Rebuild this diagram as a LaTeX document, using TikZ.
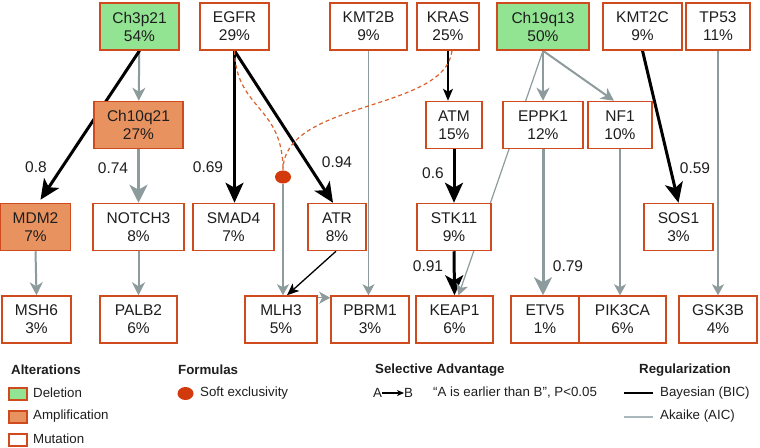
\documentclass[tikz,border=0pt]{standalone}
\usepackage{fontspec}
\setmainfont{Liberation Sans}
\usetikzlibrary{arrows.meta,shapes.geometric}
\definecolor{bord}{HTML}{CF4A1D}
\definecolor{delfill}{HTML}{92E493}
\definecolor{ampfill}{HTML}{E8935F}
\definecolor{edgegray}{HTML}{8E9B9D}
\definecolor{akgray}{HTML}{AAB8BB}
\definecolor{softred}{HTML}{D2390D}
\definecolor{dashred}{HTML}{D8612C}
\definecolor{txt}{HTML}{1E1E1E}
\pgfdeclarelayer{bg}
\pgfsetlayers{bg,main}
\tikzset{
  gnode/.style={draw=bord, line width=1.5pt, fill=white, minimum height=47pt, inner sep=0pt,
    align=center, text=txt, font=\fontsize{15.5}{18}\selectfont},
  delnode/.style={gnode, fill=delfill},
  ampnode/.style={gnode, fill=ampfill},
  wlabel/.style={text=txt, font=\fontsize{15.5}{18}\selectfont, inner sep=0pt},
  bigblack/.style={draw=black, line width=3pt, -{Stealth[length=20pt,width=18pt,inset=5pt]}},
  thinblack/.style={draw=black, line width=1.3pt, -{Stealth[length=12pt,width=10pt,inset=3pt]}},
  biggray/.style={draw=edgegray, line width=3pt, -{Stealth[length=18pt,width=18pt,inset=5pt]}},
  midgray/.style={draw=edgegray, line width=2pt, -{Stealth[length=13pt,width=13pt,inset=4pt]}},
  thingray/.style={draw=edgegray, line width=1.2pt, -{Stealth[length=11pt,width=12pt,inset=3pt]}},
  softdash/.style={draw=dashred, line width=1.2pt, dash pattern=on 4pt off 3pt},
  legtext/.style={anchor=west, text=txt, inner sep=0pt, font=\fontsize{13.3}{16}\selectfont},
  leghead/.style={legtext, font=\fontsize{13.3}{16}\selectfont\bfseries},
  legbox/.style={draw=bord, line width=1.5pt, minimum width=18pt, minimum height=12pt, inner sep=0pt},
  softdot/.style={ellipse, fill=softred, minimum width=16pt, minimum height=13pt, inner sep=0pt}
}
\begin{document}
\begin{tikzpicture}[x=1pt,y=-1pt]
\useasboundingbox (0,0) rectangle (760,447);
% row 1
\node[delnode, minimum width=79pt] (ch3) at (139.5,26.5) {Ch3p21\\54\%};
\node[gnode, minimum width=69pt] (egfr) at (234.5,26.5) {EGFR\\29\%};
\node[gnode, minimum width=77pt] (kmt2b) at (368.5,26.5) {KMT2B\\9\%};
\node[gnode, minimum width=62pt] (kras) at (448,26.5) {KRAS\\25\%};
\node[delnode, minimum width=92pt] (ch19) at (543,26.5) {Ch19q13\\50\%};
\node[gnode, minimum width=79pt] (kmt2c) at (642.5,26.5) {KMT2C\\9\%};
\node[gnode, minimum width=64pt] (tp53) at (718,26.5) {TP53\\11\%};
% row 2
\node[ampnode, minimum width=89pt] (ch10) at (138.5,125) {Ch10q21\\27\%};
\node[gnode, minimum width=56pt] (atm) at (454,125) {ATM\\15\%};
\node[gnode, minimum width=80pt] (eppk1) at (543,125) {EPPK1\\12\%};
\node[gnode, minimum width=64pt] (nf1) at (620,125) {NF1\\10\%};
% row 3
\node[ampnode, minimum width=70pt] (mdm2) at (35.5,227) {MDM2\\7\%};
\node[gnode, minimum width=91pt] (notch3) at (138.5,227) {NOTCH3\\8\%};
\node[gnode, minimum width=81pt] (smad4) at (233.5,227) {SMAD4\\7\%};
\node[gnode, minimum width=58pt] (atr) at (337,227) {ATR\\8\%};
\node[gnode, minimum width=74pt] (stk11) at (454,227) {STK11\\9\%};
\node[gnode, minimum width=69pt] (sos1) at (678.5,227) {SOS1\\3\%};
% row 4
\node[gnode, minimum width=69pt] (msh6) at (36.5,319.5) {MSH6\\3\%};
\node[gnode, minimum width=77pt] (palb2) at (138.5,319.5) {PALB2\\6\%};
\node[gnode, minimum width=72pt] (mlh3) at (281,319.5) {MLH3\\5\%};
\node[gnode, minimum width=78pt] (pbrm1) at (370,319.5) {PBRM1\\3\%};
\node[gnode, minimum width=77pt] (keap1) at (454.5,319.5) {KEAP1\\6\%};
\node[gnode, minimum width=68pt] (etv5) at (545,319.5) {ETV5\\1\%};
\node[gnode, minimum width=87pt] (pik3ca) at (622.5,319.5) {PIK3CA\\6\%};
\node[gnode, minimum width=78pt] (gsk3b) at (718,319.5) {GSK3B\\4\%};
% soft exclusivity dot
\node[softdot] (dot) at (283,177) {};
% edge labels
\node[wlabel] (l08) at (36,167) {0.8};
\node[wlabel] (l074) at (113,168) {0.74};
\node[wlabel] (l069) at (208,167) {0.69};
\node[wlabel] (l094) at (337,162) {0.94};
\node[wlabel] (l06) at (433,173) {0.6};
\node[wlabel] (l059) at (695,168) {0.59};
\node[wlabel] (l091) at (428,266) {0.91};
\node[wlabel] (l079) at (568,266) {0.79};
\begin{pgfonlayer}{bg}
% gray (AIC) edges
\draw[midgray] (ch3) -- (ch10);
\draw[biggray] (ch10) -- (notch3);
\draw[midgray] (mdm2.south) -- (msh6.north);
\draw[midgray] (notch3.south) -- (notch3.south |- palb2.north);
\draw[thingray] (kmt2b.south) -- (kmt2b.south |- pbrm1.north);
\draw[midgray] (ch19.south) -- (eppk1.north);
\draw[midgray] (ch19.south) -- ([xshift=-6pt]nf1.north);
\draw[biggray] (eppk1.south) -- (eppk1.south |- etv5.north);
\draw[thingray] (nf1.south) -- (nf1.south |- pik3ca.north);
\draw[thingray] (tp53.south) -- (gsk3b.north);
\draw[thingray] (dot.south) -- (dot.south |- mlh3.north);
\draw[thingray] ([yshift=-2.5pt]mlh3.north east) -- ([yshift=-2.5pt]pbrm1.north west);
% black (BIC) edges
\draw[bigblack] (ch3.south) -- ([xshift=5pt,yshift=3pt]mdm2.north);
\draw[bigblack] (egfr.south) -- (egfr.south |- smad4.north);
\draw[bigblack] (egfr.south) -- ([xshift=-4pt]atr.north);
\draw[thinblack] (kras.south) -- (kras.south |- atm.north);
\draw[bigblack] (atm.south) -- (stk11.north);
\draw[bigblack] (stk11.south) -- (keap1.north);
\draw[bigblack] (kmt2c.south) -- (sos1.north);
\draw[thinblack] ([xshift=-1pt]atr.south) -- ([xshift=6pt]mlh3.north);
\draw[thingray] (ch19.south) -- ([xshift=4pt]keap1.north);
% soft exclusivity dashed links
\draw[softdash] (egfr.south) .. controls (236,110) and (283,105) .. (dot.north);
\draw[softdash] ([xshift=4pt]kras.south) .. controls (445,112) and (283,100) .. (dot.north);
\end{pgfonlayer}
% legend
\node[leghead] (hAlt) at (11,370) {Alterations};
\node[legbox, fill=delfill] (bDel) at (18,394) {};
\node[legtext] (tDel) at (33,393) {Deletion};
\node[legbox, fill=ampfill] (bAmp) at (18,417) {};
\node[legtext] (tAmp) at (33,416) {Amplification};
\node[legbox, fill=white] (bMut) at (18,440) {};
\node[legtext] (tMut) at (33,439) {Mutation};
\node[leghead] (hForm) at (178,370) {Formulas};
\node[softdot] (lDot) at (185.5,393.5) {};
\node[legtext] (tSoft) at (200,393) {Soft exclusivity};
\node[leghead] (hSel) at (375,370) {Selective Advantage};
\node[legtext] (lA) at (373,393) {A};
\node[legtext] (lB) at (404,393) {B};
\draw[black, line width=1.2pt, -{Stealth[length=7pt,width=6pt,inset=2pt]}] (lA.east) -- (lB.west);
\node[legtext] (tSel) at (433,393) {“A is earlier than B”, P<0.05};
\node[leghead] (hReg) at (639,370) {Regularization};
\coordinate (rb1) at (624,393);
\coordinate (rb2) at (653,393);
\draw[black, line width=1.8pt] (rb1) -- (rb2);
\node[legtext] (tBic) at (660,393) {Bayesian (BIC)};
\coordinate (ra1) at (624,417);
\coordinate (ra2) at (653,417);
\draw[akgray, line width=1.5pt] (ra1) -- (ra2);
\node[legtext] (tAic) at (660,416) {Akaike (AIC)};
\end{tikzpicture}
\end{document}
